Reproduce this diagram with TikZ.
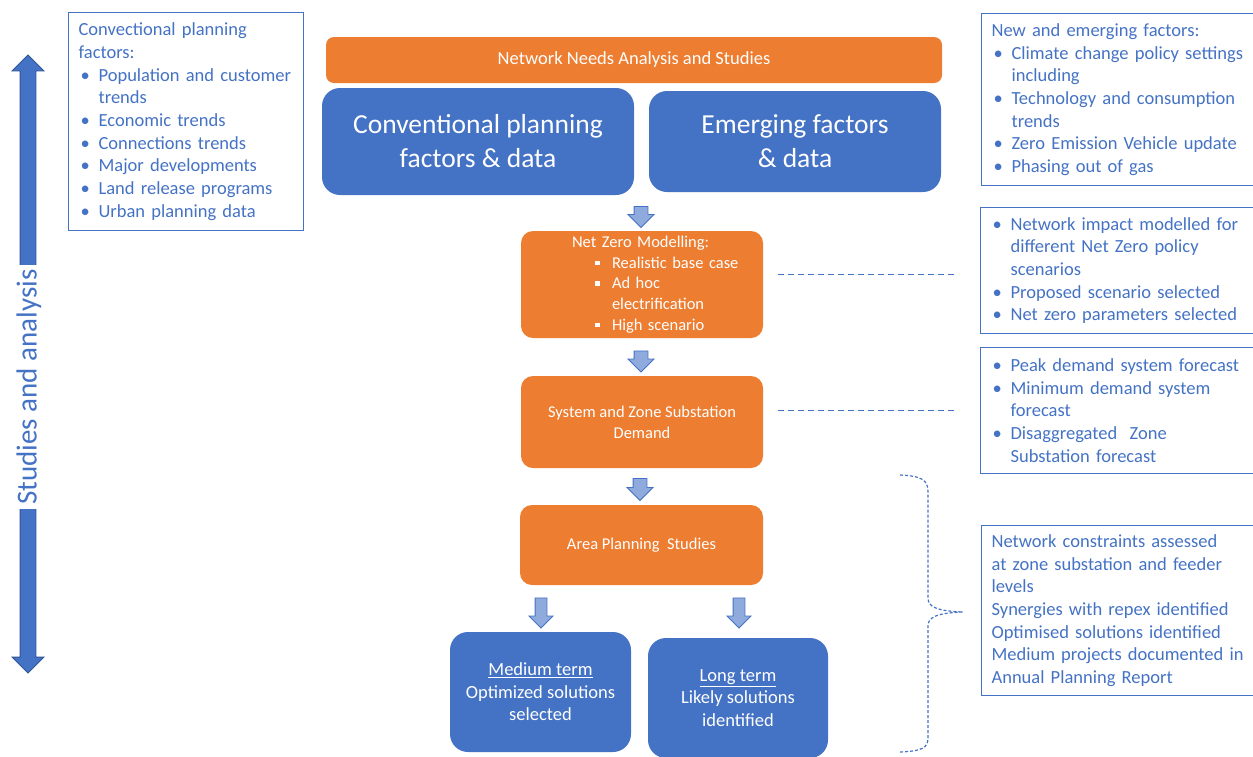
\documentclass[tikz,border=0pt]{standalone}
\usepackage{fontspec}
\setmainfont{Carlito}
\usetikzlibrary{shapes.arrows}

\definecolor{accorange}{HTML}{ED7D31}
\definecolor{accblue}{HTML}{4472C4}
\definecolor{arrowfill}{HTML}{8FAADC}
\definecolor{darkblue}{HTML}{2F5597}

% bullet, hanging indent and square bullet for the lists
\newcommand{\bl}{\makebox[20pt][l]{\hspace{2pt}\textbullet}}
\newcommand{\ind}{\hspace*{20pt}}
\newcommand{\sqb}{\makebox[17pt][l]{\raisebox{3pt}{\rule{4.5pt}{4.5pt}}}}

\tikzset{
  infobox/.style = {draw=accblue, line width=1.2pt, text=accblue, align=left,
    anchor=north west, inner xsep=10pt, inner ysep=0pt,
    font=\fontsize{18.5}{22.7}\selectfont},
  bluebox/.style = {fill=accblue, rounded corners=18pt, text=white, align=center,
    inner sep=0pt},
  orangebox/.style = {fill=accorange, rounded corners=12pt, text=white, align=center,
    inner sep=0pt, font=\fontsize{16.5}{20.7}\selectfont},
  downarrow/.style = {single arrow, draw=accblue, fill=arrowfill, line width=0.8pt,
    shape border rotate=270, inner sep=6.5pt, single arrow head extend=6pt},
  linkdash/.style = {draw=accblue, line width=1pt, dash pattern=on 6pt off 4pt},
  bracedash/.style = {draw=accblue, line width=1.2pt, dash pattern=on 3pt off 2pt},
}

\begin{document}
\begin{tikzpicture}[x=1pt,y=-1pt]
\useasboundingbox (0,0) rectangle (1253,756);

% main flow
\node[orangebox, minimum width=616, minimum height=46, rounded corners=8pt,
  font=\fontsize{18.5}{22}\selectfont] (needs) at (634,60)
  {Network Needs Analysis and Studies};
\node[bluebox, minimum width=312, minimum height=107, font=\fontsize{27.5}{34}\selectfont] (conv) at (478,141.5)
  {Conventional planning\\factors \& data};
\node[bluebox, minimum width=292, minimum height=101, font=\fontsize{27.5}{34}\selectfont] (emerg) at (795,141.5)
  {Emerging factors\\\& data};

\node[orangebox, minimum width=242, minimum height=107, text width=242, align=left] (nz) at (642,284.5)
  {\hspace*{51pt}Net Zero Modelling:\\
   \hspace*{74pt}\sqb Realistic base case\\
   \hspace*{74pt}\sqb Ad hoc\\
   \hspace*{91pt}electrification\\
   \hspace*{74pt}\sqb High scenario};
\node[orangebox, minimum width=242, minimum height=92] (demand) at (642,422)
  {System and Zone Substation\\Demand};
\node[orangebox, minimum width=243, minimum height=80] (area) at (641.5,545)
  {Area Planning\ \ Studies};
\node[bluebox, minimum width=181, minimum height=120, font=\fontsize{18.5}{22.5}\selectfont] (medium) at (540.5,692)
  {\underline{Medium term}\\Optimized solutions\\selected};
\node[bluebox, minimum width=180, minimum height=120, font=\fontsize{18.5}{22.5}\selectfont] (long) at (738,698)
  {\underline{Long term}\\Likely solutions\\identified};

% block arrows between the stages
\node[downarrow, minimum height=21] (a1) at (641,213.5) {};
\node[downarrow, minimum height=21] (a2) at (641,358) {};
\node[downarrow, minimum height=22] (a3) at (640,486) {};
\node[downarrow, minimum height=30, inner sep=5.5pt] (a4) at (541,610) {};
\node[downarrow, minimum height=30, inner sep=5.5pt] (a5) at (739,610) {};

% side lists
\node[infobox, text width=215, minimum height=218] (convlist) at (68,12)
  {Convectional planning\\
   factors:\\
   \bl Population and customer\\
   \ind trends\\
   \bl Economic trends\\
   \bl Connections trends\\
   \bl Major developments\\
   \bl Land release programs\\
   \bl Urban planning data};
\node[infobox, text width=262, minimum height=172] (emerglist) at (981,13)
  {New and emerging factors:\\
   \bl Climate change policy settings\\
   \ind including\\
   \bl Technology and consumption\\
   \ind trends\\
   \bl Zero Emission Vehicle update\\
   \bl Phasing out of gas};
\node[infobox, text width=262, minimum height=126] (nzlist) at (980,207)
  {\bl Network impact modelled for\\
   \ind different Net Zero policy\\
   \ind scenarios\\
   \bl Proposed scenario selected\\
   \bl Net zero parameters selected};
\node[infobox, text width=262, minimum height=126] (demandlist) at (980,347)
  {\bl Peak demand system forecast\\
   \bl Minimum demand system\\
   \ind forecast\\
   \bl Disaggregated\ \ Zone\\
   \ind Substation forecast};
\node[infobox, text width=262, minimum height=170] (arealist) at (981,525)
  {Network constraints assessed\\
   at zone substation and feeder\\
   levels\\
   Synergies with repex identified\\
   Optimised solutions identified\\
   Medium projects documented in\\
   Annual Planning Report};

% dashed links to the lists
\coordinate (nzA) at (778,274);
\coordinate (nzB) at (955,274);
\coordinate (demA) at (778,410);
\coordinate (demB) at (955,410);
\draw[linkdash] (nzA) -- (nzB);
\draw[linkdash] (demA) -- (demB);

% brace round the planning studies
\draw[bracedash] (900,475) .. controls (922,476) and (928,480) .. (928,492)
  -- (928,598) .. controls (928,607) and (937,611) .. (963,612)
  .. controls (937,613) and (928,617) .. (928,626)
  -- (928,738) .. controls (928,748) and (922,751) .. (900,752);

% studies and analysis span
\node[double arrow, fill=accblue, draw=darkblue, line width=0.8pt, shape border rotate=90,
  minimum height=618, inner sep=7.5pt, double arrow head extend=8pt] (span) at (28,364) {};
\node[rotate=90, fill=white, text=accblue, inner xsep=4pt, inner ysep=0pt,
  font=\fontsize{29}{33}\selectfont] (spanlabel) at (29,387) {Studies and analysis};
\end{tikzpicture}
\end{document}
